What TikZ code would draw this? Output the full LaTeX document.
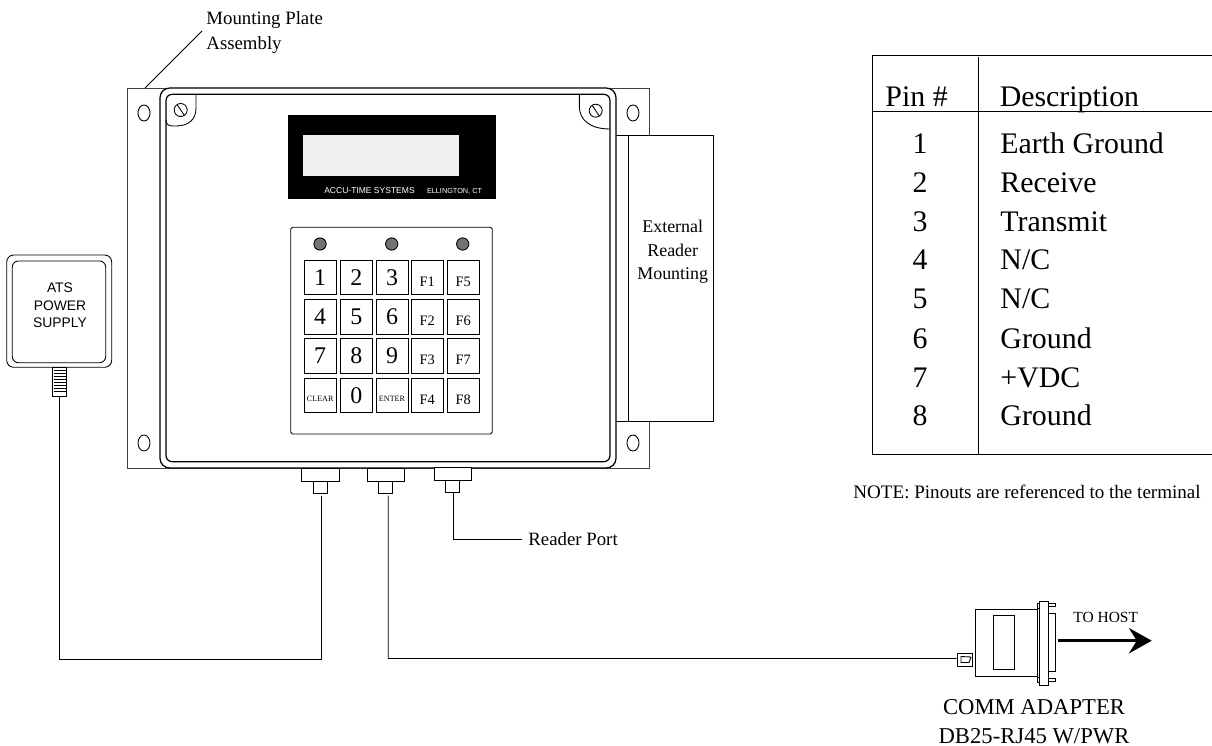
\documentclass[tikz,border=0pt]{standalone}
\usepackage{fontspec}
\usepackage{tikz}
\usetikzlibrary{arrows.meta}
\setmainfont{Liberation Serif}
\newfontfamily\panelfont{Liberation Sans}

\tikzset{
	thinline/.style={line width=0.5pt},
	keybox/.style={draw, thinline, fill=white, minimum width=18.2pt, minimum height=19.6pt, inner sep=0pt, text height=9.2pt, text depth=0pt, font=\fontsize{13.6}{13.6}\selectfont},
	fkeybox/.style={keybox, text height=10.2pt, font=\fontsize{8.2}{8.2}\selectfont},
	wordkeybox/.style={keybox, text height=7.6pt, font=\fontsize{4.6}{4.6}\selectfont},
	ledlamp/.style={circle, draw, thinline, fill=black!55, minimum size=7pt, inner sep=0pt},
	collarbox/.style={draw, thinline, fill=white, minimum width=21.3pt, minimum height=7.2pt, inner sep=0pt},
	stembox/.style={draw, thinline, fill=white, minimum width=7.9pt, minimum height=7pt, inner sep=0pt},
	tabletext/.style={anchor=base west, inner sep=0pt, font=\fontsize{17}{17}\selectfont},
	pintext/.style={anchor=base, inner sep=0pt, font=\fontsize{17}{17}\selectfont},
	smalltext/.style={anchor=base west, inner sep=0pt, font=\fontsize{10.7}{10.7}\selectfont},
	captext/.style={anchor=base, inner sep=0pt, font=\fontsize{12.9}{12.9}\selectfont},
}

\begin{document}
\begin{tikzpicture}[x=0.02cm, y=-0.02cm, thinline]
	\useasboundingbox (0,0) rectangle (1212,746);

	% mounting plate
	\draw[black!75] (649,135) -- (649,88) -- (127,88) -- (127,468) -- (649,468) -- (649,421);
	\draw (144,113) ellipse [x radius=6, y radius=8];
	\draw (633,113) ellipse [x radius=6, y radius=8];
	\draw (144,443) ellipse [x radius=6, y radius=8];
	\draw (633,443) ellipse [x radius=6, y radius=8];
	\node (platelabel) at (206,25) [smalltext] {Mounting Plate};
	\node at (206,49.3) [smalltext] {Assembly};
	\coordinate (platecorner) at (145,88);
	\coordinate (leaderend) at (202,31);
	\draw (platecorner) -- (leaderend);

	% external reader
	\draw (616,135.3) -- (628,135.3);
	\draw (616,421.7) -- (628,421.7);
	\draw (628,135.3) rectangle (713.7,421.7);
	\node (mountlabel) at (672.7,252) [align=center, inner sep=0pt, font=\fontsize{10.2}{13.3}\selectfont] {External\\Reader\\Mounting};

	% enclosure
	\draw[fill=white, rounded corners=5.5pt, line width=0.7pt] (160,88) rectangle (616,468);
	\draw[rounded corners=3.5pt, line width=0.7pt] (166,94.3) rectangle (610,461.7);
	\draw (196,94.3) -- (196,108) .. controls (196,120) and (188,126) .. (176,126) -- (173,126) .. controls (168,126) and (166,124) .. (166,120);
	\draw (579.3,94.3) -- (579.3,106) .. controls (579.3,120) and (590,129) .. (610,129);
	\draw (180.7,110) circle [radius=6.5];
	\draw (177,104.5) -- (184.5,115.5);
	\draw (595.7,110.7) circle [radius=6.5];
	\draw (592,105.2) -- (599.5,116.2);

	% display
	\fill[black] (288,115) rectangle (496,198.7);
	\fill[black!6] (303,135) rectangle (459,175.6);
	\node (makerlabel) at (369.5,191) [text=white, inner sep=0pt, font=\panelfont\fontsize{4.85}{4.85}\selectfont] {ACCU-TIME SYSTEMS};
	\node (townlabel) at (454.5,191) [text=white, inner sep=0pt, font=\panelfont\fontsize{4.15}{4.15}\selectfont] {ELLINGTON, CT};

	% keypad
	\draw[rounded corners=1pt] (290.7,227.3) rectangle (492.3,434);
	\node[ledlamp] (ledA) at (320,244) {};
	\node[ledlamp] (ledB) at (391.7,244) {};
	\node[ledlamp] (ledC) at (462.7,244) {};

	\node[keybox] (keyA) at (320.2,277.3) {1};
	\node[keybox] (keyB) at (356.3,277.3) {2};
	\node[keybox] (keyC) at (392,277.3) {3};
	\node[fkeybox] (keyFA) at (427.3,277.3) {F1};
	\node[fkeybox] (keyFE) at (463.3,277.3) {F5};

	\node[keybox] (keyD) at (320.2,316.8) {4};
	\node[keybox] (keyE) at (356.3,316.8) {5};
	\node[keybox] (keyF) at (392,316.8) {6};
	\node[fkeybox] (keyFB) at (427.3,316.8) {F2};
	\node[fkeybox] (keyFF) at (463.3,316.8) {F6};

	\node[keybox] (keyG) at (320.2,355.8) {7};
	\node[keybox] (keyH) at (356.3,355.8) {8};
	\node[keybox] (keyI) at (392,355.8) {9};
	\node[fkeybox] (keyFC) at (427.3,355.8) {F3};
	\node[fkeybox] (keyFG) at (463.3,355.8) {F7};

	\node[wordkeybox] (keyclear) at (320.2,395.2) {CLEAR};
	\node[keybox] (keyzero) at (356.3,395.2) {0};
	\node[wordkeybox] (keyenter) at (392,395.2) {ENTER};
	\node[fkeybox] (keyFD) at (427.3,395.2) {F4};
	\node[fkeybox] (keyFH) at (463.3,395.2) {F8};

	% ports
	\node[stembox] (powerstem) at (320.2,487) {};
	\node[collarbox] (powercollar) at (320.3,474.7) {};
	\node[stembox] (hoststem) at (385.8,487) {};
	\node[collarbox] (hostcollar) at (385.8,474.7) {};
	\node[stembox] (readerstem) at (452.8,486.4) {};
	\node[collarbox] (readercollar) at (452.8,474.2) {};

	% power supply
	\draw[rounded corners=4pt] (6.7,255) rectangle (111.7,367.3);
	\draw[rounded corners=3.5pt] (12.3,261) rectangle (105.7,362.7);
	\node (supplylabel) at (60,305.5) [align=center, inner sep=0pt, font=\panelfont\fontsize{7.9}{10}\selectfont] {ATS\\POWER\\SUPPLY};
	\node[draw, thinline, minimum width=8.2pt, minimum height=16.8pt, inner sep=0pt] (powerstrain) at (59.5,382) {};
	\draw (53.5,370.5) -- (65.5,370.5) (53.5,373.5) -- (65.5,373.5) (53.5,376.5) -- (65.5,376.5)
		(53.5,379.5) -- (65.5,379.5) (53.5,382.5) -- (65.5,382.5) (53.5,385.5) -- (65.5,385.5)
		(53.5,388.5) -- (65.5,388.5) (53.5,391.5) -- (65.5,391.5);

	% cables
	\coordinate (powerbend) at (59.5,659);
	\draw (powerstrain.south) -- (powerbend) -| ([xshift=0.9pt, yshift=-1.2pt]powerstem.south);
	\node[draw, thinline, minimum width=8.5pt, minimum height=7.8pt, inner sep=0pt] (rjplug) at (964.5,660) {};
	\coordinate (hostbend) at (388.3,658.5);
	\draw ([xshift=1.4pt, yshift=-1.2pt]hoststem.south) -- (hostbend) -- (rjplug.west |- hostbend);
	\node (readerlabel) at (528,545.5) [smalltext] {Reader Port};
	\coordinate (readerend) at (521.7,539);
	\draw ([xshift=0.5pt]readerstem.south) |- (readerend);

	% comm adapter
	\draw (971,657) -- (961,656.5) -- (961,662.5) -- (969,662.5) -- (971,657);
	\draw (975.7,609) rectangle (1037,676);
	\draw (993.3,615.3) rectangle (1014.3,669.3);
	\draw (1037,603) rectangle (1039,608);
	\draw (1037,677) rectangle (1039,682);
	\draw (1039,601) rectangle (1048,685);
	\draw (1048,603) rectangle (1055,606);
	\draw (1048,678) rectangle (1055,681);
	\draw (1048,613) -- (1055.7,613) -- (1055.7,671.7) -- (1048,671.7);
	\coordinate (hoststart) at (1058,640.7);
	\coordinate (hostend) at (1151.7,640.7);
	\draw[line width=1.4pt, -{Stealth[length=13pt, width=14.5pt, inset=4.5pt]}] (hoststart) -- (hostend);
	\node (hostlabel) at (1105.7,622) [anchor=base, inner sep=0pt, font=\fontsize{8.8}{8.8}\selectfont] {TO HOST};
	\node (adapterA) at (1034,714) [captext] {COMM ADAPTER};
	\node (adapterB) at (1034,743) [captext] {DB25-RJ45 W/PWR};

	% pin table
	\draw (1212,55.7) -- (872.7,55.7) -- (872.7,454) -- (1212,454);
	\draw (873,111.7) -- (1212,111.7);
	\draw (978.3,57) -- (978.3,455);
	\node at (885,106.7) [tabletext] {Pin \#};
	\node at (999.3,106.7) [tabletext] {Description};
	\node at (920,153.3) [pintext] {1};
	\node at (1000,153.3) [tabletext] {Earth Ground};
	\node at (920,192.7) [pintext] {2};
	\node at (1000,192.7) [tabletext] {Receive};
	\node at (920,231.7) [pintext] {3};
	\node at (1000,231.7) [tabletext] {Transmit};
	\node at (920,270) [pintext] {4};
	\node at (1000,270) [tabletext] {N/C};
	\node at (920,308.3) [pintext] {5};
	\node at (1000,308.3) [tabletext] {N/C};
	\node at (920,348.3) [pintext] {6};
	\node at (1000,348.3) [tabletext] {Ground};
	\node at (920,387.3) [pintext] {7};
	\node at (1000,387.3) [tabletext] {+VDC};
	\node at (920,425.7) [pintext] {8};
	\node at (1000,425.7) [tabletext] {Ground};
	\node at (853,498) [anchor=base west, inner sep=0pt, font=\fontsize{10.85}{10.85}\selectfont] {NOTE: Pinouts are referenced to the terminal};
\end{tikzpicture}
\end{document}
